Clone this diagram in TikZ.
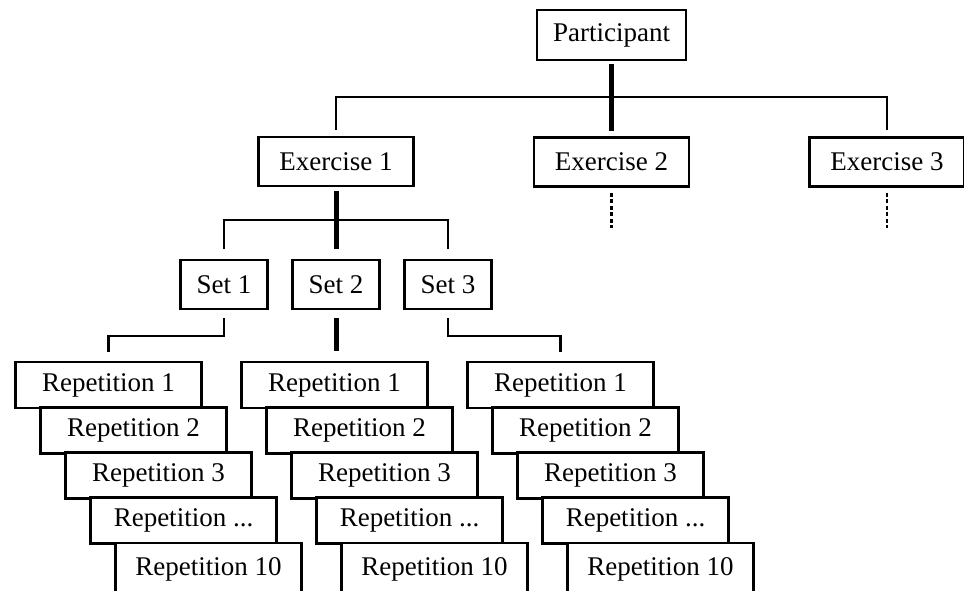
\documentclass[tikz,border=0pt]{standalone}
\usepackage{fontspec}
\setmainfont{Liberation Serif}
\newcommand\reptxt[1]{Repetition \ifcase#1\or 1\or 2\or 3\or .{}.{}.\or 10\fi}
\begin{document}
\begin{tikzpicture}[x=1pt,y=-1pt,
  bx/.style={draw, line width=2.9pt, fill=white, inner sep=0pt,
    font=\fontsize{27}{30}\selectfont, minimum height=49pt},
  rep/.style={bx, minimum width=186pt, minimum height=46pt},
  conn/.style={line width=2.8pt},
  tconn/.style={line width=5pt},
  dsh/.style={line width=2.4pt, dash pattern=on 4pt off 2.5pt}]
\useasboundingbox (0,0) rectangle (964,590);
\clip (0,0) rectangle (964,590);

% nodes
\node[bx, minimum width=149pt, minimum height=50pt] (part) at (611.5,35) {Participant};
\node[bx, minimum width=155pt] (ex1) at (336,161.5) {Exercise 1};
\node[bx, minimum width=155pt] (ex2) at (611.5,162) {Exercise 2};
\node[bx, minimum width=155pt] (ex3) at (887,162) {Exercise 3};
\node[bx, minimum width=87pt] (s1) at (224,284.5) {Set 1};
\node[bx, minimum width=87pt] (s2) at (336,284.5) {Set 2};
\node[bx, minimum width=87pt] (s3) at (448,284.5) {Set 3};

\foreach \g/\gx in {1/108.5,2/334.5,3/560.5} {
  \foreach \i in {1,2,3,4} {
    \node[rep] (g\g-\i) at ({\gx+25*(\i-1)},{385+45.3*(\i-1)}) {\reptxt{\i}};
  }
  \node[rep, minimum height=52pt] (g\g-5) at ({\gx+100},569) {\reptxt{5}};
}

% bus coordinates
\coordinate (bus0) at (0,97);
\coordinate (bus1) at (0,220);
\coordinate (bus2) at (0,336);
\coordinate (d2) at (ex2.south |- 0,228);
\coordinate (d3) at (ex3.south |- 0,228);

% connectors
\draw[tconn, shorten <=3pt, shorten >=5pt] (part.south) -- (ex2.north);
\draw[conn, shorten <=6pt, shorten >=6pt] (ex1.north) -- (ex1.north |- bus0) -- (ex3.north |- bus0) -- (ex3.north);
\draw[dsh, shorten <=5pt] (ex2.south) -- (d2);
\draw[dsh, shorten <=5pt] (ex3.south) -- (d3);

\draw[tconn, shorten <=4pt, shorten >=10pt] (ex1.south) -- (s2.north);
\draw[conn, shorten <=10pt, shorten >=10pt] (s1.north) -- (s1.north |- bus1) -- (s3.north |- bus1) -- (s3.north);

\draw[conn, shorten <=8pt, shorten >=9pt] (s1.south) -- (s1.south |- bus2) -- (g1-1.north |- bus2) -- (g1-1.north);
\draw[tconn, shorten <=8pt, shorten >=10pt] (s2.south) -- (s2.south |- g2-1.north);
\draw[conn, shorten <=8pt, shorten >=9pt] (s3.south) -- (s3.south |- bus2) -- (g3-1.north |- bus2) -- (g3-1.north);
\end{tikzpicture}
\end{document}
